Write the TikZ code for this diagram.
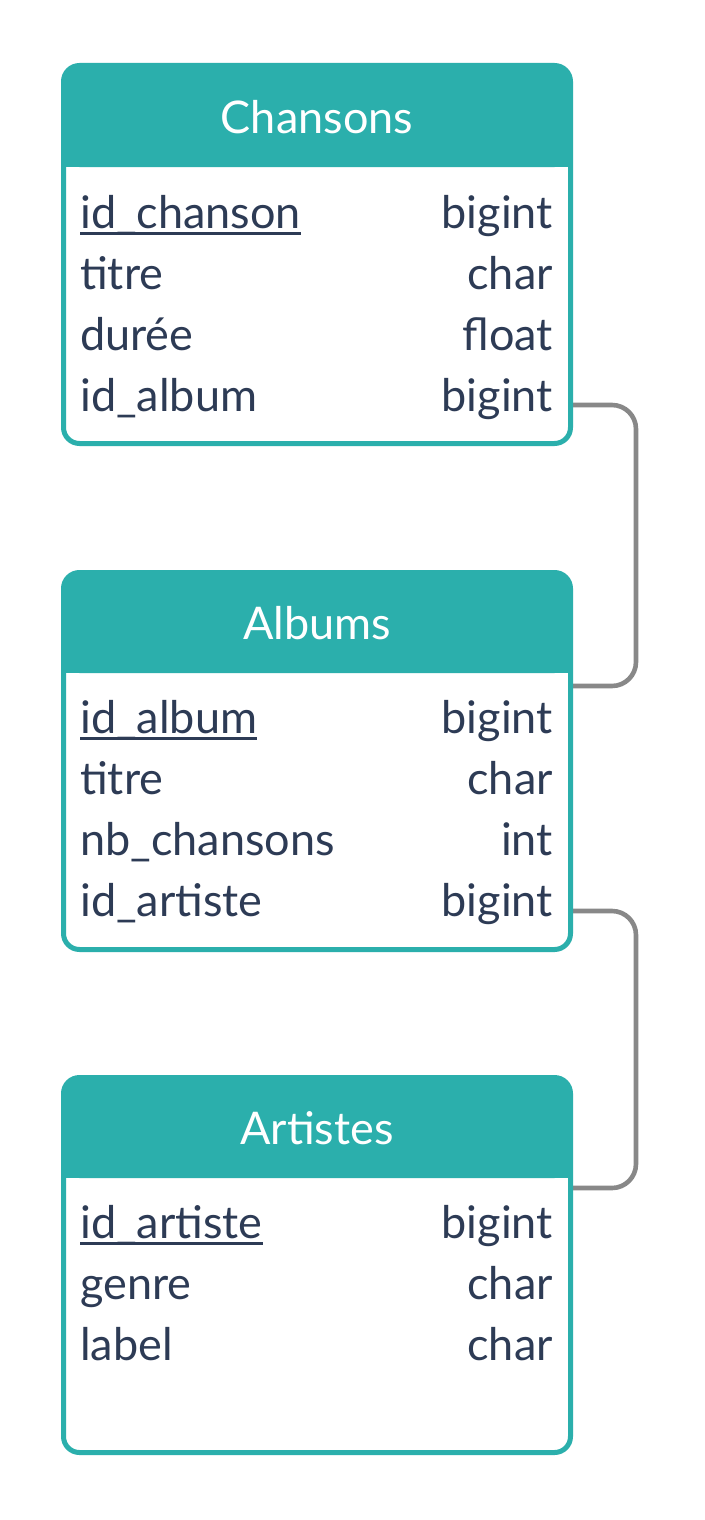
\documentclass[tikz,border=0pt]{standalone}
\usepackage{fontspec}
\setmainfont{Lato}
\usetikzlibrary{calc}
\definecolor{teal}{HTML}{2BAFAC}
\definecolor{ink}{HTML}{2D3B55}
\definecolor{linkgray}{HTML}{888888}
\tikzset{
  frame/.style={fill=white, rounded corners=16pt, minimum width=507pt, inner sep=0pt, outer sep=0pt, anchor=north west},
  outline/.style={draw=teal, line width=5pt, rounded corners=16pt},
  hdrbox/.style={fill=teal, rounded corners=16pt, minimum width=507pt, inner sep=0pt, outer sep=0pt, anchor=north west},
  title/.style={text=white, font=\fontsize{45}{54}\selectfont, inner sep=0pt, anchor=base},
  field/.style={text=ink, font=\fontsize{45}{54}\selectfont, inner sep=0pt, anchor=base west},
  ftype/.style={text=ink, font=\fontsize{45}{54}\selectfont, inner sep=0pt, anchor=base east},
  pkline/.style={draw=ink, line width=2.8pt},
  conn/.style={draw=linkgray, line width=4.6pt, rounded corners=24pt}
}
\begin{document}
\begin{tikzpicture}[x=1pt,y=-1pt]
\useasboundingbox[fill=white] (0,0) rectangle (704,1520);
\coordinate (chNW) at (63.5,65.5);
\coordinate (alNW) at (63.5,572.5);
\coordinate (arNW) at (63.5,1077.5);
% table bodies
\node[frame, minimum height=378pt] (chF) at (chNW) {};
\node[frame, minimum height=377pt] (alF) at (alNW) {};
\node[frame, minimum height=375pt] (arF) at (arNW) {};
% headers
\node[hdrbox, minimum height=101.5pt] (chH) at (chNW) {};
\fill[teal] ($(chH.south west)+(0,-30)$) rectangle (chH.south east);
\node[hdrbox, minimum height=100.5pt] (alH) at (alNW) {};
\fill[teal] ($(alH.south west)+(0,-30)$) rectangle (alH.south east);
\node[hdrbox, minimum height=100.5pt] (arH) at (arNW) {};
\fill[teal] ($(arH.south west)+(0,-30)$) rectangle (arH.south east);
% titles
\node[title] (chT) at (317,133) {Chansons};
\node[title] (alT) at (317,639) {Albums};
\node[title] (arT) at (317,1144) {Artistes};
% Chansons fields
\node[field] (ch1) at (80,228) {id\_chanson};
\node[field] (ch2) at (80,289) {titre};
\node[field] (ch3) at (80,350) {durée};
\node[field] (ch4) at (80,411) {id\_album};
\node[ftype] (cht1) at (553,228) {bigint};
\node[ftype] (cht2) at (553,289) {char};
\node[ftype] (cht3) at (553,350) {float};
\node[ftype] (cht4) at (553,411) {bigint};
% Albums fields
\node[field] (al1) at (80,733) {id\_album};
\node[field] (al2) at (80,794) {titre};
\node[field] (al3) at (80,855) {nb\_chansons};
\node[field] (al4) at (80,916) {id\_artiste};
\node[ftype] (alt1) at (553,733) {bigint};
\node[ftype] (alt2) at (553,794) {char};
\node[ftype] (alt3) at (553,855) {int};
\node[ftype] (alt4) at (553,916) {bigint};
% Artistes fields
\node[field] (ar1) at (80,1238) {id\_artiste};
\node[field] (ar2) at (80,1299) {genre};
\node[field] (ar3) at (80,1360) {label};
\node[ftype] (art1) at (553,1238) {bigint};
\node[ftype] (art2) at (553,1299) {char};
\node[ftype] (art3) at (553,1360) {char};
% primary key underlines
\draw[pkline] ($(ch1.base west)+(0,5.5)$) -- ($(ch1.base east)+(0,5.5)$);
\draw[pkline] ($(al1.base west)+(0,5.5)$) -- ($(al1.base east)+(0,5.5)$);
\draw[pkline] ($(ar1.base west)+(0,5.5)$) -- ($(ar1.base east)+(0,5.5)$);
% connectors
\coordinate (c1a) at ($(chF.east |- cht4.base)+(0,-6)$);
\coordinate (c1b) at ($(alF.east |- alH.south)+(0,13)$);
\coordinate (c2a) at ($(alF.east |- alt4.base)+(0,-5)$);
\coordinate (c2b) at ($(arF.east |- arH.south)+(0,10)$);
\draw[conn] (c1a) -- ++(65.5,0) |- (c1b);
\draw[conn] (c2a) -- ++(65.5,0) |- (c2b);
% outlines
\draw[outline] (chF.north west) rectangle (chF.south east);
\draw[outline] (alF.north west) rectangle (alF.south east);
\draw[outline] (arF.north west) rectangle (arF.south east);
\end{tikzpicture}
\end{document}
